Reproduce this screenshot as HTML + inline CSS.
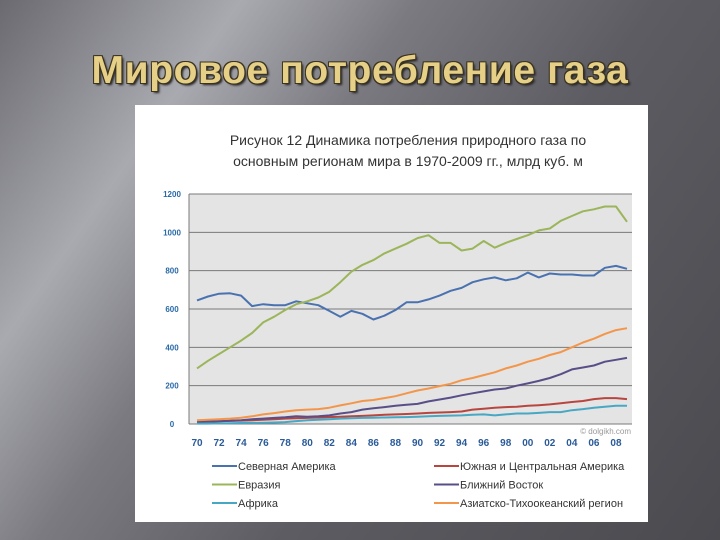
<!DOCTYPE html>
<html><head><meta charset="utf-8"><style>
html,body{margin:0;padding:0}
body{width:720px;height:540px;overflow:hidden;position:relative;font-family:"Liberation Sans",sans-serif;
background:linear-gradient(125deg,#6a6a70 0%,#a9a9b0 22%,#7a7a80 38%,#5c5c62 60%,#4a4a4f 100%);}
#title{position:absolute;left:0;top:49px;width:720px;text-align:center;font-size:39px;font-weight:bold;color:#e6cf86;
text-shadow:-1px -1px 0 #3a3320,1px -1px 0 #3a3320,-1px 1px 0 #3a3320,1px 1px 0 #3a3320,2px 2px 2px #222;letter-spacing:0.6px}
#panel{position:absolute;left:135px;top:105px;width:513px;height:417px;background:#fff}
svg{position:absolute;left:0;top:0}
</style></head><body>
<div id="title">Мировое потребление газа</div>
<div id="panel"></div>
<svg id="chart" width="720" height="540"></svg>
<script>
const years=[];for(let y=1970;y<=2009;y++)years.push(y);
const yTicks=[0,200,400,600,800,1000,1200];
const xTickLabels=["70","72","74","76","78","80","82","84","86","88","90","92","94","96","98","00","02","04","06","08"];
const northAmerica=[645,665,680,682,670,615,625,620,620,640,630,620,590,560,590,575,545,565,595,635,635,650,670,695,710,740,755,765,750,760,790,765,785,780,780,775,775,815,825,810];
const eurasia=[290,330,365,400,435,475,530,560,595,625,640,660,690,740,795,830,855,890,915,940,970,985,945,945,905,915,955,920,945,965,985,1010,1020,1060,1085,1110,1120,1135,1135,1055];
const asiaPacific=[20,22,25,28,33,40,50,57,65,72,75,78,85,97,108,120,125,135,145,160,175,185,198,210,228,240,255,270,290,305,325,340,360,375,400,425,445,470,490,500];
const middleEast=[10,12,14,17,20,25,28,32,35,40,38,40,45,55,62,75,82,88,95,100,105,118,128,138,150,160,170,180,185,200,212,225,240,260,285,295,305,325,335,345];
const southAmerica=[12,13,14,16,18,20,22,25,28,30,32,34,36,38,40,42,45,48,50,52,55,58,60,62,65,75,80,85,88,90,95,98,102,108,115,120,130,135,135,130];
const africa=[2,2,3,4,5,6,7,8,10,15,20,22,25,28,30,32,33,34,35,36,38,40,42,44,45,48,50,45,50,55,55,58,62,62,72,78,85,90,95,95];
const series=[
 {name:"Северная Америка",data:northAmerica,color:"#4a72b0",id:"north-america"},
 {name:"Южная и Центральная Америка",data:southAmerica,color:"#b8463f",id:"south-central-america"},
 {name:"Евразия",data:eurasia,color:"#9bb55a",id:"eurasia"},
 {name:"Ближний Восток",data:middleEast,color:"#5a4e88",id:"middle-east"},
 {name:"Африка",data:africa,color:"#48a8c4",id:"africa"},
 {name:"Азиатско-Тихоокеанский регион",data:asiaPacific,color:"#f3964a",id:"asia-pacific"}];
const L=189,R=632,T=194,B=424;
const xS=i=>197+i*(430/39);
const yS=v=>B-(v/1200)*(B-T);
const svg=document.getElementById('chart');const NS="http://www.w3.org/2000/svg";
function mk(t,a,p){const e=document.createElementNS(NS,t);for(const k in a)e.setAttribute(k,a[k]);(p||svg).appendChild(e);return e;}
let e;
e=mk('text',{x:408,y:145,'text-anchor':'middle','font-size':14,fill:'#333'});e.textContent="Рисунок 12 Динамика потребления природного газа по";


e=mk('text',{x:408,y:166,'text-anchor':'middle','font-size':14,fill:'#333'});e.textContent="основным регионам мира в 1970-2009 гг., млрд куб. м";


e=mk('rect',{x:L,y:T,width:R-L,height:B-T,fill:'#e4e4e4'});


yTicks.forEach(v=>{
 e=mk('line',{x1:L,x2:R,y1:yS(v),y2:yS(v),stroke:'#7a7a7a','stroke-width':1});
 
 
 e=mk('text',{x:172,y:yS(v)+3,'text-anchor':'middle','font-size':8,'font-weight':'bold',fill:'#2a6aa8'});e.textContent=v;
 
 
});
e=mk('line',{x1:L,x2:L,y1:T,y2:B,stroke:'#7a7a7a'});


xTickLabels.forEach((t,k)=>{
 e=mk('text',{x:xS(k*2),y:446,'text-anchor':'middle','font-size':10,'font-weight':'bold',fill:'#2a5a98'});e.textContent=t;
 
 
});
e=mk('text',{x:631,y:434,'text-anchor':'end','font-size':8,fill:'#999'});e.textContent="© dolgikh.com";


series.forEach(s=>{
 const pts=s.data.map((v,i)=>xS(i).toFixed(1)+","+yS(v).toFixed(1)).join(" ");
 e=mk('polyline',{points:pts,fill:'none',stroke:s.color,'stroke-width':2,'stroke-linejoin':'round'});
 
 
});
series.forEach((s,k)=>{
 const col=k%2, row=Math.floor(k/2);
 const x0=col?434:212, y0=466+row*18.5;
 e=mk('g',{});
 
 
 mk('line',{x1:x0,x2:x0+25,y1:y0,y2:y0,stroke:s.color,'stroke-width':2},e);
 const t=mk('text',{x:x0+26,y:y0+4,'font-size':11,fill:'#333'},e);t.textContent=s.name;
});
</script>
</body></html>
